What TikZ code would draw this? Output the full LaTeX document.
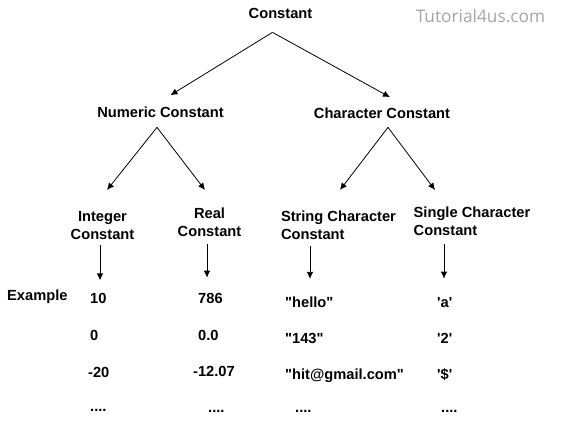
\documentclass[tikz,border=0pt]{standalone}
\usepackage{fontspec}
\setmainfont{Liberation Sans}
\newfontfamily\wmfont{Open Sans}
\usetikzlibrary{arrows.meta}
\newcommand{\sq}{\textquotesingle}
\newcommand{\dq}{\textquotedbl}
\newcommand{\fourdots}{....}
\begin{document}
\begin{tikzpicture}[x=1pt,y=-1pt,
        lbl/.style={font=\fontsize{14.67}{18}\selectfont\bfseries,inner sep=0pt},
        val/.style={lbl,anchor=base west},
        arr/.style={-{Latex[length=7pt,width=6.5pt]},line width=0.8pt}]
        \useasboundingbox(0,0)rectangle(563,425);
        % tree labels
        \node[lbl,anchor=base](const)at(280.5,19){Constant};
        \node[font=\wmfont\fontsize{17.3}{19}\selectfont,text=black!35,inner sep=0pt](wm)at(480.5,16){Tutorial4us.com};
        \node[lbl,anchor=base](num)at(160.5,118){Numeric Constant};
        \node[lbl,anchor=base](chr)at(382,119){Character Constant};
        \node[lbl,anchor=north,align=center](intc)at(102.5,210.75){Integer\\Constant};
        \node[lbl,anchor=north,align=center](realc)at(209.5,207.75){Real\\Constant};
        \node[lbl,anchor=north,align=left](strc)at(338.5,210.75){String Character\\Constant};
        \node[lbl,anchor=north,align=left](sglc)at(472,206.75){Single Character\\Constant};
        \node[val](ex)at(7,300){Example};
        % examples
        \foreach \x/\y/\t [count=\i] in {90/304/10,90/341/0,88/377/-20,90/411/\fourdots}
            \node[val](i\i)at(\x,\y){\t};
        \foreach \x/\y/\t [count=\i] in {198/303/786,198/340/0.0,193/376/-12.07,208/412/\fourdots}
            \node[val](r\i)at(\x,\y){\t};
        \foreach \x/\y/\t [count=\i] in {285/308/\dq hello\dq,285/343/\dq 143\dq,285/379/\dq hit@gmail.com\dq,295/412/\fourdots}
            \node[val](s\i)at(\x,\y){\t};
        \foreach \x/\y/\t [count=\i] in {437/308/\sq a\sq,437/343/\sq 2\sq,437/379/\sq\$\sq,441/412/\fourdots}
            \node[val](c\i)at(\x,\y){\t};
        % arrows
        \coordinate(top)at([shift={(-8,13)}]const.south);
        \draw[arr](top)--([shift={(10,-12)}]num.north);
        \draw[arr](top)--([shift={(8,-11)}]chr.north);
        \coordinate(napex)at([shift={(-3.5,9)}]num.south);
        \draw[arr](napex)--([shift={(4.5,-20.75)}]intc.north);
        \draw[arr](napex)--([shift={(-4.5,-17.75)}]realc.north);
        \coordinate(capex)at([shift={(6,8)}]chr.south);
        \draw[arr](capex)--([shift={(1.5,-20.75)}]strc.north);
        \draw[arr](capex)--([shift={(-37,-16.75)}]sglc.north);
        \draw[arr]([shift={(-2.5,6)}]intc.south)--++(0,35);
        \draw[arr]([shift={(-2.5,6.75)}]realc.south)--++(0,34);
        \draw[arr]([shift={(-28.5,6)}]strc.south)--++(0,33);
        \draw[arr]([shift={(-28,7.75)}]sglc.south)--++(0,35);
    \end{tikzpicture}
\end{document}
